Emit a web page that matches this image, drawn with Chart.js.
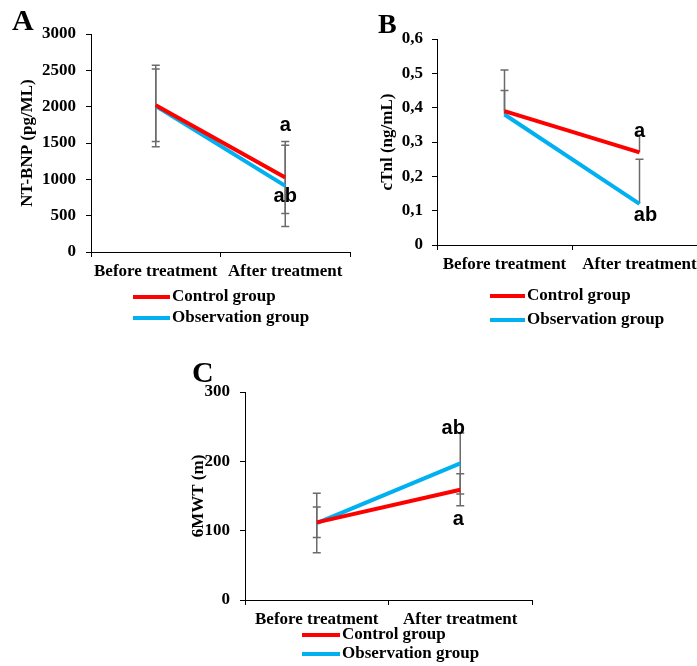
<!DOCTYPE html>
<html>
<head>
<meta charset="utf-8">
<script src="https://cdn.jsdelivr.net/npm/chart.js@4.4.1/dist/chart.umd.min.js"></script>
<style>
  html, body { margin: 0; padding: 0; background: #fff; overflow: hidden; }
  body { width: 697px; height: 666px; position: relative; }
  canvas { position: absolute; }
</style>
</head>
<body>
<canvas id="graficoA" width="352" height="330" style="left:0;top:0"></canvas>
<canvas id="graficoB" width="360" height="330" style="left:350px;top:0"></canvas>
<canvas id="graficoC" width="360" height="316" style="left:180px;top:350px"></canvas>
<script>
// categorias e séries
const categorias = ['Before treatment', 'After treatment'];
const grupos = ['Control group', 'Observation group'];

// NT-BNP (pg/ML)
const bnpControle = [2020, 1025];
const bnpControleErro = [500, 495];
const bnpObservacao = [2010, 910];
const bnpObservacaoErro = [560, 560];
const bnpTicks = [0, 500, 1000, 1500, 2000, 2500, 3000];

// cTnl (ng/mL)
const ctnlControle = [0.39, 0.27];
const ctnlControleErro = [0.12, 0.05];
const ctnlObservacao = [0.38, 0.12];
const ctnlObservacaoErro = [0.07, 0.13];
const ctnlTicks = [0, 0.1, 0.2, 0.3, 0.4, 0.5, 0.6];

// 6MWT (m)
const mwtControle = [112, 159];
const mwtControleErro = [22, 23];
const mwtObservacao = [111, 197];
const mwtObservacaoErro = [43, 44];
const mwtTicks = [0, 100, 200, 300];

const VERMELHO = '#FF0000';
const AZUL = '#00B0F0';
const SERIF = "'Liberation Serif', 'Times New Roman', serif";
const SANS = "'Liberation Sans', Arial, sans-serif";

// barras de erro (desenhadas atrás das linhas)
const barrasErro = {
  id: 'barrasErro',
  beforeDatasetsDraw(chart, args, opts) {
    const ctx = chart.ctx;
    const y = chart.scales.y;
    ctx.save();
    ctx.strokeStyle = '#6b6b6b';
    ctx.lineWidth = 1.5;
    chart.data.datasets.forEach((ds, i) => {
      const meta = chart.getDatasetMeta(i);
      meta.data.forEach((pt, j) => {
        const v = ds.data[j], e = ds.erros[j];
        const topo = y.getPixelForValue(v + e);
        const base = opts.soSuperior ? y.getPixelForValue(v) : y.getPixelForValue(v - e);
        ctx.beginPath();
        ctx.moveTo(pt.x, topo); ctx.lineTo(pt.x, base);
        ctx.moveTo(pt.x - 4, topo); ctx.lineTo(pt.x + 4, topo);
        if (!opts.soSuperior) { ctx.moveTo(pt.x - 4, base); ctx.lineTo(pt.x + 4, base); }
        ctx.stroke();
      });
    });
    ctx.restore();
  }
};

// letras de significância, legenda e letra do painel
const anotacoes = {
  id: 'anotacoes',
  afterDraw(chart, args, opts) {
    const ctx = chart.ctx;
    ctx.save();
    ctx.fillStyle = '#000';
    ctx.textAlign = 'center';
    ctx.textBaseline = 'middle';
    ctx.font = 'bold 20px ' + SANS;
    (opts.letras || []).forEach(l => {
      const pt = chart.getDatasetMeta(l.dataset).data[l.index];
      ctx.fillText(l.texto, pt.x + (l.dx || 0), pt.y + l.dy);
    });

    const lg = opts.legenda;
    ctx.textAlign = 'left';
    ctx.font = 'bold 17px ' + SERIF;
    chart.data.datasets.forEach((ds, i) => {
      const yy = lg.y[i];
      ctx.strokeStyle = ds.borderColor;
      ctx.lineWidth = 4;
      ctx.beginPath();
      ctx.moveTo(lg.x1, yy); ctx.lineTo(lg.x2, yy);
      ctx.stroke();
      ctx.fillStyle = '#000';
      ctx.fillText(ds.label, lg.x2 + 2, yy);
    });

    ctx.textBaseline = 'alphabetic';
    ctx.font = 'bold ' + opts.painel.tamanho + 'px ' + SERIF;
    ctx.fillText(opts.painel.texto, opts.painel.x, opts.painel.y);
    ctx.restore();
  }
};

function montarGrafico(id, cfg) {
  const fonte = { family: SERIF, size: 17, weight: 'bold' };
  return new Chart(document.getElementById(id), {
    type: 'line',
    data: {
      labels: categorias,
      datasets: [
        { label: grupos[0], data: cfg.controle, erros: cfg.controleErro, borderColor: VERMELHO, borderWidth: 4, pointRadius: 0, tension: 0 },
        { label: grupos[1], data: cfg.observacao, erros: cfg.observacaoErro, borderColor: AZUL, borderWidth: 4, pointRadius: 0, tension: 0 }
      ]
    },
    plugins: [barrasErro, anotacoes],
    options: {
      responsive: false,
      animation: false,
      devicePixelRatio: 1,
      layout: { padding: cfg.padding },
      plugins: {
        legend: { display: false },
        tooltip: { enabled: false },
        barrasErro: { soSuperior: cfg.soSuperior },
        anotacoes: { letras: cfg.letras, legenda: cfg.legenda, painel: cfg.painel }
      },
      scales: {
        x: {
          offset: true,
          grid: { offset: true, drawOnChartArea: false, drawTicks: true, tickLength: 5, color: '#000', lineWidth: 1 },
          border: { display: true, color: '#000', width: 1 },
          ticks: { color: '#000', font: fonte, padding: 4, maxRotation: 0, autoSkip: false },
          afterFit(s) { s.height = cfg.alturaX; }
        },
        y: {
          min: cfg.ticks[0],
          max: cfg.ticks[cfg.ticks.length - 1],
          afterBuildTicks(s) { s.ticks = cfg.ticks.map(v => ({ value: v })); },
          grid: { drawOnChartArea: false, drawTicks: true, tickLength: 5, color: '#000', lineWidth: 1 },
          border: { display: true, color: '#000', width: 1 },
          ticks: { color: '#000', font: fonte, padding: cfg.padTicks, callback: cfg.formato },
          title: { display: true, text: cfg.titulo, color: '#000', font: fonte, padding: { top: cfg.padTitulo, bottom: 0 } },
          afterFit(s) { s.width = cfg.larguraY; }
        }
      }
    }
  });
}

montarGrafico('graficoA', {
  controle: bnpControle, controleErro: bnpControleErro,
  observacao: bnpObservacao, observacaoErro: bnpObservacaoErro,
  ticks: bnpTicks, titulo: 'NT-BNP (pg/ML)',
  formato: v => String(v),
  padding: { left: 0, top: 34, right: 2, bottom: 0 },
  larguraY: 91, alturaX: 78, padTicks: 10, padTitulo: 17,
  soSuperior: false,
  letras: [
    { texto: 'a', dataset: 0, index: 1, dy: -52 },
    { texto: 'ab', dataset: 1, index: 1, dy: 11 }
  ],
  legenda: { x1: 133, x2: 170, y: [297, 318] },
  painel: { texto: 'A', x: 12, y: 30, tamanho: 30 }
});

montarGrafico('graficoB', {
  controle: ctnlControle, controleErro: ctnlControleErro,
  observacao: ctnlObservacao, observacaoErro: ctnlObservacaoErro,
  ticks: ctnlTicks, titulo: 'cTnl (ng/mL)',
  formato: v => v === 0 ? '0' : v.toFixed(1).replace('.', ','),
  padding: { left: 0, top: 39, right: 3, bottom: 0 },
  larguraY: 87, alturaX: 85, padTicks: 9, padTitulo: 27,
  soSuperior: true,
  letras: [
    { texto: 'a', dataset: 0, index: 1, dy: -21 },
    { texto: 'ab', dataset: 1, index: 1, dy: 12, dx: 6 }
  ],
  legenda: { x1: 140, x2: 175, y: [296, 320] },
  painel: { texto: 'B', x: 28, y: 33, tamanho: 28 }
});

montarGrafico('graficoC', {
  controle: mwtControle, controleErro: mwtControleErro,
  observacao: mwtObservacao, observacaoErro: mwtObservacaoErro,
  ticks: mwtTicks, titulo: '6MWT (m)',
  formato: v => String(v),
  padding: { left: 0, top: 42, right: 8, bottom: 0 },
  larguraY: 65, alturaX: 66, padTicks: 10, padTitulo: 8,
  soSuperior: false,
  letras: [
    { texto: 'ab', dataset: 1, index: 1, dy: -35, dx: -7 },
    { texto: 'a', dataset: 0, index: 1, dy: 30, dx: -2 }
  ],
  legenda: { x1: 122, x2: 160, y: [285, 304] },
  painel: { texto: 'C', x: 12, y: 32, tamanho: 30 }
});
</script>
</body>
</html>
